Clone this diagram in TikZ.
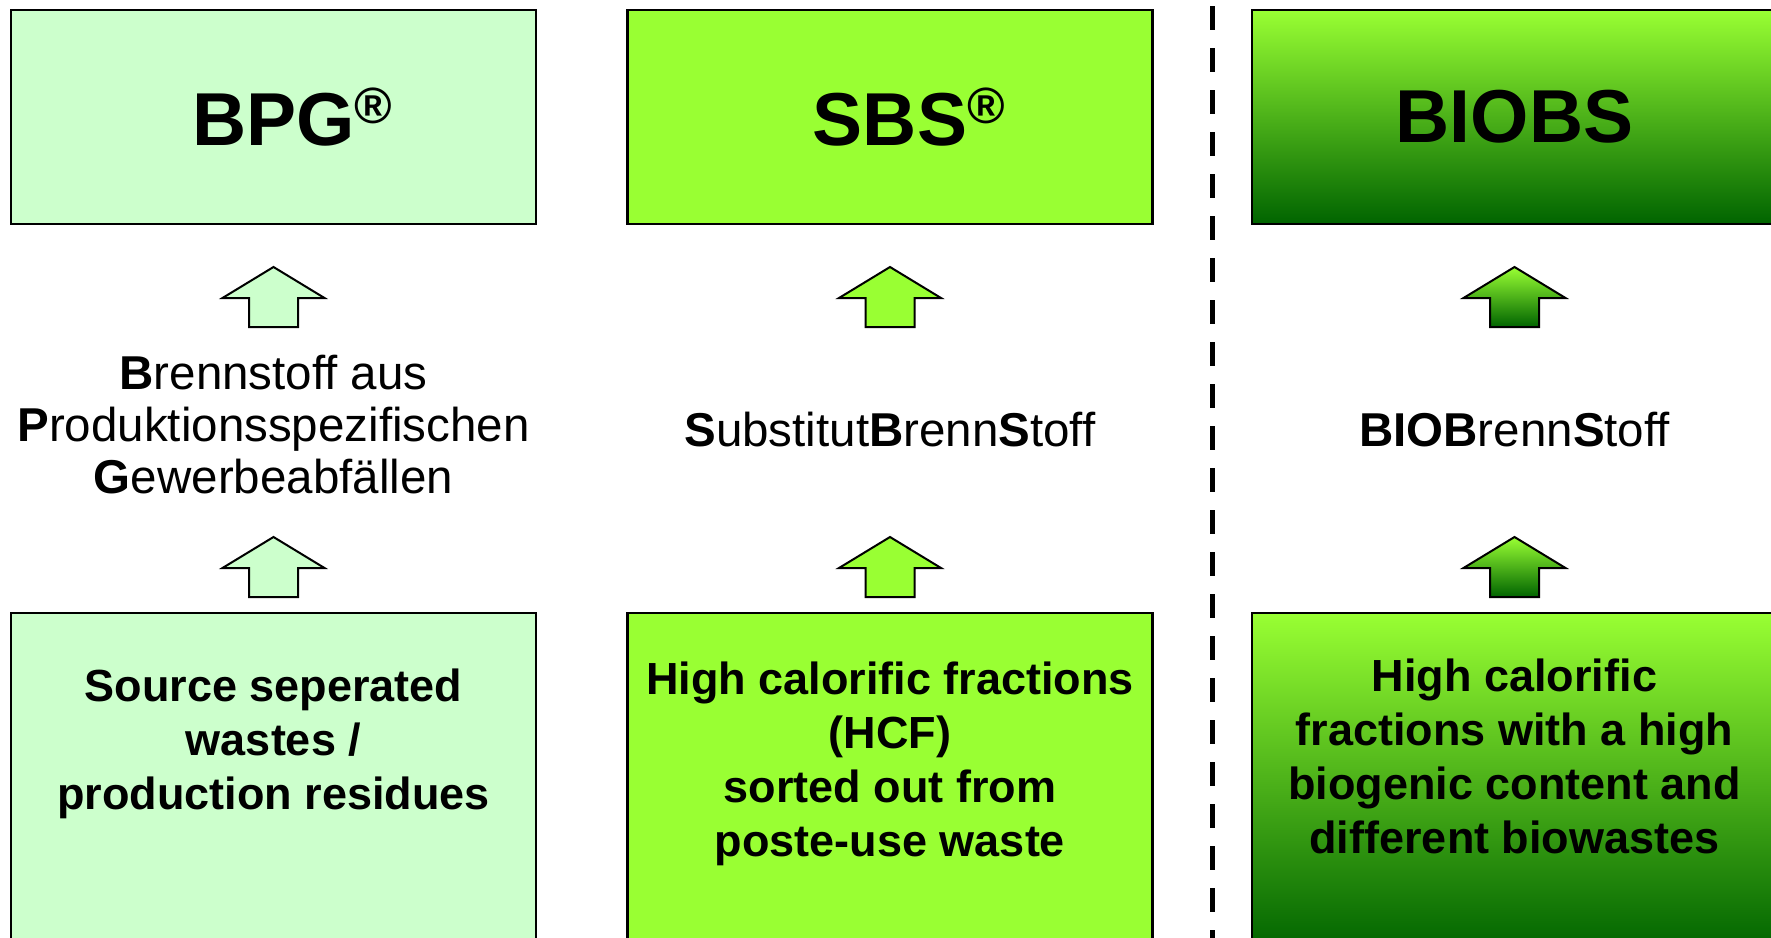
\documentclass[tikz,border=0pt]{standalone}
\usepackage{fontspec}
\setmainfont{Liberation Sans}
\usepackage{tikz}
\definecolor{paleG}{RGB}{204,255,204}
\definecolor{limeG}{RGB}{153,255,51}
\definecolor{darkG}{RGB}{0,100,0}
\tikzstyle{box}=[rectangle, draw=black, line width=2.3pt, minimum width=525pt, inner sep=0pt, outer sep=0pt]
\tikzstyle{paleBox}=[box, fill=paleG]
\tikzstyle{limeBox}=[box, fill=limeG]
\tikzstyle{darkBox}=[box, top color=limeG, bottom color=darkG]
\tikzstyle{blockArr}=[draw=black, line width=2pt, line join=miter]
\tikzstyle{titleText}=[font=\fontsize{75}{90}\selectfont\bfseries]
\tikzstyle{midText}=[align=center, inner sep=0pt, font=\fontsize{47.5}{52}\selectfont]
\tikzstyle{boxText}=[align=center, inner sep=0pt, font=\fontsize{45}{54}\selectfont\bfseries]
\tikzstyle{sepLine}=[line width=5pt, dash pattern=on 24pt off 18pt]
\newcommand{\regmark}{\rlap{\raisebox{22pt}{\fontsize{51}{51}\selectfont ®}}}

\begin{document}
\begin{tikzpicture}[x=1pt, y=-1pt]
      \useasboundingbox (0,0) rectangle (1771,937);
      \clip (0,0) rectangle (1771,937);
      \node(bpg) [paleBox, titleText, minimum height=214pt] at (273.5, 117){BPG\regmark};
      \node(sbs) [limeBox, titleText, minimum height=214pt] at (890, 117){SBS\regmark};
      \node(biobs) [darkBox, titleText, minimum height=214pt] at (1514.5, 117){BIOBS};
      \node(in1) [paleBox, minimum height=337pt] at (273.5, 781.5){};
      \node(in2) [limeBox, minimum height=337pt] at (890, 781.5){};
      \node(in3) [darkBox, minimum height=337pt] at (1514.5, 781.5){};
      \node(mid1) [midText, anchor=north] at (273.5, 355){\textbf{B}rennstoff aus\\\textbf{P}roduktionsspezifischen\\\textbf{G}ewerbeabfällen};
      \node(mid2) [midText, anchor=base] at (890, 446){\textbf{S}ubstitut\textbf{B}renn\textbf{S}toff};
      \node(mid3) [midText, anchor=base] at (1514.5, 446){\textbf{BIOB}renn\textbf{S}toff};
      \node(src1) [boxText, anchor=north] at (273.5, 669){Source seperated\\wastes /\\production residues};
      \node(src2) [boxText, anchor=north] at (890, 662){High calorific fractions\\(HCF)\\sorted out from\\poste-use waste};
      \node(src3) [boxText, anchor=north] at (1514.5, 659){High calorific\\fractions with a high\\biogenic content and\\different biowastes};
      \coordinate(up1) at (273.5, 267);
      \coordinate(up2) at (890, 267);
      \coordinate(up3) at (1514.5, 267);
      \coordinate(lo1) at (273.5, 537);
      \coordinate(lo2) at (890, 537);
      \coordinate(lo3) at (1514.5, 537);
      \draw[blockArr, fill=paleG] (up1) -- ++(51,31) -- ++(-26.5,0) -- ++(0,29) -- ++(-49,0) -- ++(0,-29) -- ++(-26.5,0) -- cycle;
      \draw[blockArr, fill=limeG] (up2) -- ++(51,31) -- ++(-26.5,0) -- ++(0,29) -- ++(-49,0) -- ++(0,-29) -- ++(-26.5,0) -- cycle;
      \draw[blockArr, top color=limeG, bottom color=darkG] (up3) -- ++(51,31) -- ++(-26.5,0) -- ++(0,29) -- ++(-49,0) -- ++(0,-29) -- ++(-26.5,0) -- cycle;
      \draw[blockArr, fill=paleG] (lo1) -- ++(51,31) -- ++(-26.5,0) -- ++(0,29) -- ++(-49,0) -- ++(0,-29) -- ++(-26.5,0) -- cycle;
      \draw[blockArr, fill=limeG] (lo2) -- ++(51,31) -- ++(-26.5,0) -- ++(0,29) -- ++(-49,0) -- ++(0,-29) -- ++(-26.5,0) -- cycle;
      \draw[blockArr, top color=limeG, bottom color=darkG] (lo3) -- ++(51,31) -- ++(-26.5,0) -- ++(0,29) -- ++(-49,0) -- ++(0,-29) -- ++(-26.5,0) -- cycle;
      \coordinate(sepTop) at (1212, 6);
      \coordinate(sepBot) at (1212, 940);
      \draw[sepLine] (sepTop) -- (sepBot);
\end{tikzpicture}
\end{document}
